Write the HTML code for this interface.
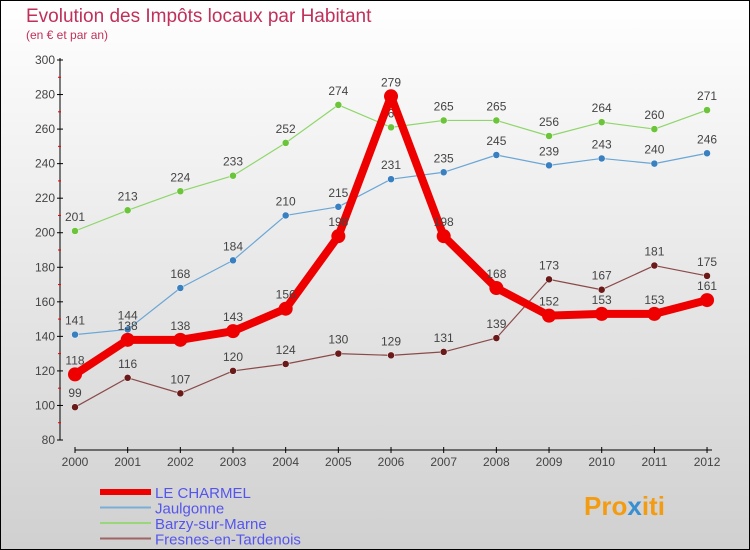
<!DOCTYPE html>
<html><head><meta charset="utf-8"><style>
body{margin:0;width:750px;height:550px;overflow:hidden}
svg{display:block;font-family:"Liberation Sans",sans-serif}
</style></head><body>
<svg width="750" height="550">
<defs><linearGradient id="bg" x1="0" y1="0" x2="0" y2="1"><stop offset="0" stop-color="#ffffff"/><stop offset="1" stop-color="#d0d0d0"/></linearGradient></defs>
<rect x="0.5" y="0.5" width="749" height="549" fill="url(#bg)" stroke="#000"/>
<text x="26" y="22" font-size="19" fill="#c0305a">Evolution des Impôts locaux par Habitant</text>
<text x="26" y="39" font-size="12" fill="#c0305a">(en € et par an)</text>
<g id="axes"></g><g id="series"></g><g id="legend"></g>
<text x="584" y="515" font-size="26" font-weight="bold" fill="#f39c12">Pro<tspan fill="#3a8fd0">x</tspan>iti</text>
</svg>
<script>
const years=[2000,2001,2002,2003,2004,2005,2006,2007,2008,2009,2010,2011,2012];
const yTicks=[80,100,120,140,160,180,200,220,240,260,280,300];
const charmel=[118,138,138,143,156,198,279,198,168,152,153,153,161];
const jaulgonne=[141,144,168,184,210,215,231,235,245,239,243,240,246];
const barzy=[201,213,224,233,252,274,261,265,265,256,264,260,271];
const fresnes=[99,116,107,120,124,130,129,131,139,173,167,181,175];
const NS="http://www.w3.org/2000/svg";
const xs=i=>75+i*52.67;
const ys=v=>440-(v-80)*380/220;
function mk(t,a,p){const e=document.createElementNS(NS,t);for(const k in a)e.setAttribute(k,a[k]);(p||document.getElementById('series')).appendChild(e);return e;}
const ax=document.getElementById('axes');
let e=mk('line',{x1:60,y1:58,x2:60,y2:440,stroke:'#000'},ax);

e=mk('line',{x1:75,y1:450,x2:712,y2:450,stroke:'#000'},ax);

yTicks.forEach(v=>{mk('line',{x1:57,x2:63,y1:ys(v),y2:ys(v),stroke:'#000'},ax);
if(v<300)mk('line',{x1:58,x2:61,y1:ys(v+10),y2:ys(v+10),stroke:'#e00'},ax);
const t=mk('text',{x:55,y:ys(v)+4,'font-size':12,fill:'#444','text-anchor':'end'},ax);t.textContent=v;
});
years.forEach((y,i)=>{mk('line',{x1:xs(i),x2:xs(i),y1:447,y2:453,stroke:'#000'},ax);
const t=mk('text',{x:xs(i),y:466,'font-size':12,fill:'#444','text-anchor':'middle'},ax);t.textContent=y;
});
function series(d,col,w,r,name,dot){const g=mk('g',{});
const l=mk('polyline',{points:d.map((v,i)=>xs(i)+','+ys(v)).join(' '),fill:'none',stroke:col,'stroke-width':w,'stroke-linejoin':'round'},g);

d.forEach((v,i)=>{const c=mk('circle',{cx:xs(i),cy:ys(v),r:r,fill:dot,stroke:'#fff','stroke-width':r>5?0:0.5},g);

const t=mk('text',{x:xs(i),y:ys(v)-10,'font-size':12,fill:'#444','text-anchor':'middle'},g);t.textContent=v;
});}
series(fresnes,'#8b4a4a',1.2,3.5,'fresnes','#6b1a1a');
series(barzy,'#8ed66a',1.2,3.5,'barzy','#6bc43a');
series(jaulgonne,'#6aa6d6',1.2,3.5,'jaulgonne','#3a80c0');
series(charmel,'#ee0000',8,7,'charmel','#ee0000');
const lg=document.getElementById('legend');
[['LE CHARMEL','#ee0000',6],['Jaulgonne','#7aaed6',2],['Barzy-sur-Marne','#9ad67a',2],['Fresnes-en-Tardenois','#a06464',2]].forEach((s,i)=>{
const y=492+i*15.5;const l=mk('line',{x1:100,x2:151,y1:y,y2:y,stroke:s[1],'stroke-width':s[2]},lg);

const t=mk('text',{x:155,y:y+6,'font-size':15,fill:'#5555ee'},lg);t.textContent=s[0];
});
</script>
</body></html>
